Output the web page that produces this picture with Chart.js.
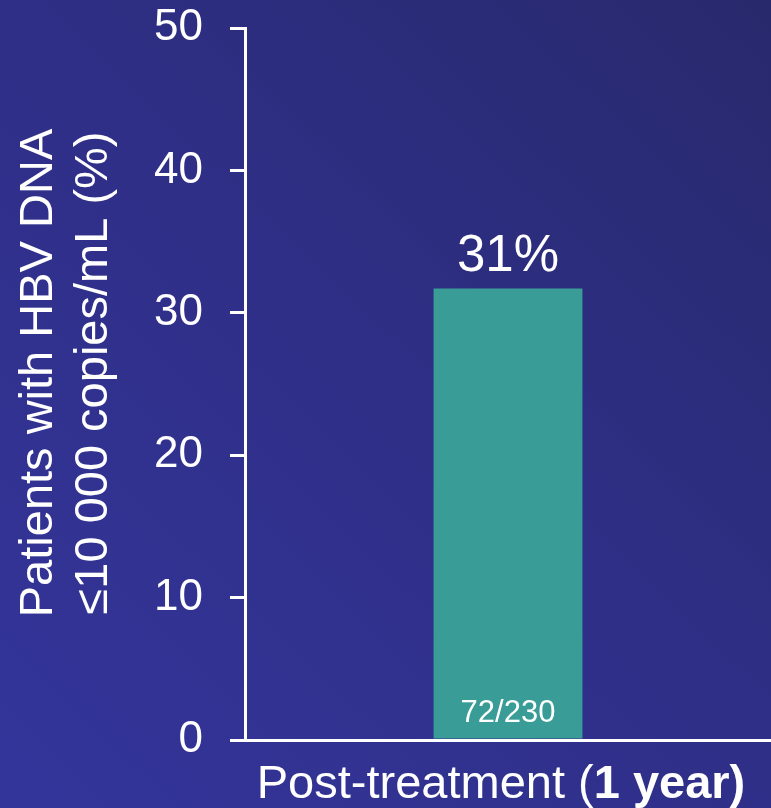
<!DOCTYPE html>
<html>
<head>
<meta charset="utf-8">
<script src="https://cdn.jsdelivr.net/npm/chart.js@4"></script>
<style>
  html, body { margin: 0; padding: 0; background: #2f2f88; }
  #wrap { width: 771px; height: 808px; position: relative; }
</style>
</head>
<body>
<div id="wrap"><canvas id="c"></canvas></div>
<script>
const categories = ['Post-treatment (1 year)'];
const values = [31.7];
const valueLabels = ['31%'];
const countLabels = ['72/230'];
const yMin = 0;
const yMax = 50;
const yStep = 10;
const yTitle = ['Patients with HBV DNA', '≤10 000 copies/mL (%)'];
const xLabelParts = [
  { text: 'Post-treatment (', bold: false },
  { text: '1 year)', bold: true }
];

const FONT = "'Liberation Sans', Arial, Helvetica, sans-serif";

const bgPlugin = {
  id: 'bg',
  beforeDraw(chart) {
    const { ctx, width, height } = chart;
    const g = ctx.createLinearGradient(0, height, width, 0);
    g.addColorStop(0, '#34359b');
    g.addColorStop(0.5, '#2f2f88');
    g.addColorStop(1, '#28296c');
    ctx.save();
    ctx.fillStyle = g;
    ctx.fillRect(0, 0, width, height);
    ctx.restore();
  }
};

const labelPlugin = {
  id: 'labels',
  afterDraw(chart) {
    const { ctx, chartArea } = chart;
    const meta = chart.getDatasetMeta(0);
    ctx.save();
    ctx.fillStyle = '#ffffff';
    ctx.textAlign = 'center';
    ctx.textBaseline = 'alphabetic';
    meta.data.forEach((bar, i) => {
      ctx.font = `51px ${FONT}`;
      ctx.fillText(valueLabels[i], bar.x, bar.y - 18);
      ctx.font = `31px ${FONT}`;
      ctx.fillText(countLabels[i], bar.x, bar.base - 17);
    });
    // y-axis title (two lines, rotated)
    const cy = (chartArea.top + chartArea.bottom) / 2 - 11;
    ctx.font = `47px ${FONT}`;
    ctx.textBaseline = 'alphabetic';
    ctx.textAlign = 'center';
    yTitle.forEach((line, i) => {
      ctx.save();
      ctx.translate(52 + i * 55, cy);
      ctx.rotate(-Math.PI / 2);
      ctx.fillText(line, 0, 0);
      ctx.restore();
    });
    // x category label with mixed weights
    const xs = chart.scales.x;
    const cx = xs.getPixelForValue(0) - 7;
    const baseY = chartArea.bottom + 58;
    let total = 0;
    const widths = xLabelParts.map(p => {
      ctx.font = `${p.bold ? 'bold ' : ''}47px ${FONT}`;
      const w = ctx.measureText(p.text).width;
      total += w;
      return w;
    });
    let x = cx - total / 2;
    ctx.textAlign = 'left';
    xLabelParts.forEach((p, i) => {
      ctx.font = `${p.bold ? 'bold ' : ''}47px ${FONT}`;
      ctx.fillText(p.text, x, baseY);
      x += widths[i];
    });
    ctx.restore();
  }
};

new Chart(document.getElementById('c'), {
  type: 'bar',
  data: {
    labels: categories,
    datasets: [{
      data: values,
      backgroundColor: '#3a9c96',
      borderWidth: 0,
      categoryPercentage: 1,
      barPercentage: 0.283
    }]
  },
  options: {
    responsive: true,
    maintainAspectRatio: false,
    animation: false,
    layout: { padding: { top: 28, right: 0, left: 0, bottom: 0 } },
    plugins: {
      legend: { display: false },
      tooltip: { enabled: false }
    },
    scales: {
      x: {
        grid: { display: false },
        border: { display: true, color: '#ffffff', width: 3 },
        ticks: { display: false },
        afterFit(s) { s.height = 68; s.paddingLeft = 0; s.paddingRight = 0; }
      },
      y: {
        min: yMin,
        max: yMax,
        ticks: {
          stepSize: yStep,
          color: '#ffffff',
          font: { family: FONT, size: 44 },
          padding: 27
        },
        grid: {
          drawOnChartArea: false,
          drawTicks: true,
          tickLength: 15,
          tickWidth: 3,
          tickColor: '#ffffff',
          color: '#ffffff',
          lineWidth: 3
        },
        border: { display: true, color: '#ffffff', width: 3 },
        title: { display: false },
        afterFit(s) { s.width = 245; s.paddingTop = 0; s.paddingBottom = 0; }
      }
    }
  },
  plugins: [bgPlugin, labelPlugin]
});
</script>
</body>
</html>
